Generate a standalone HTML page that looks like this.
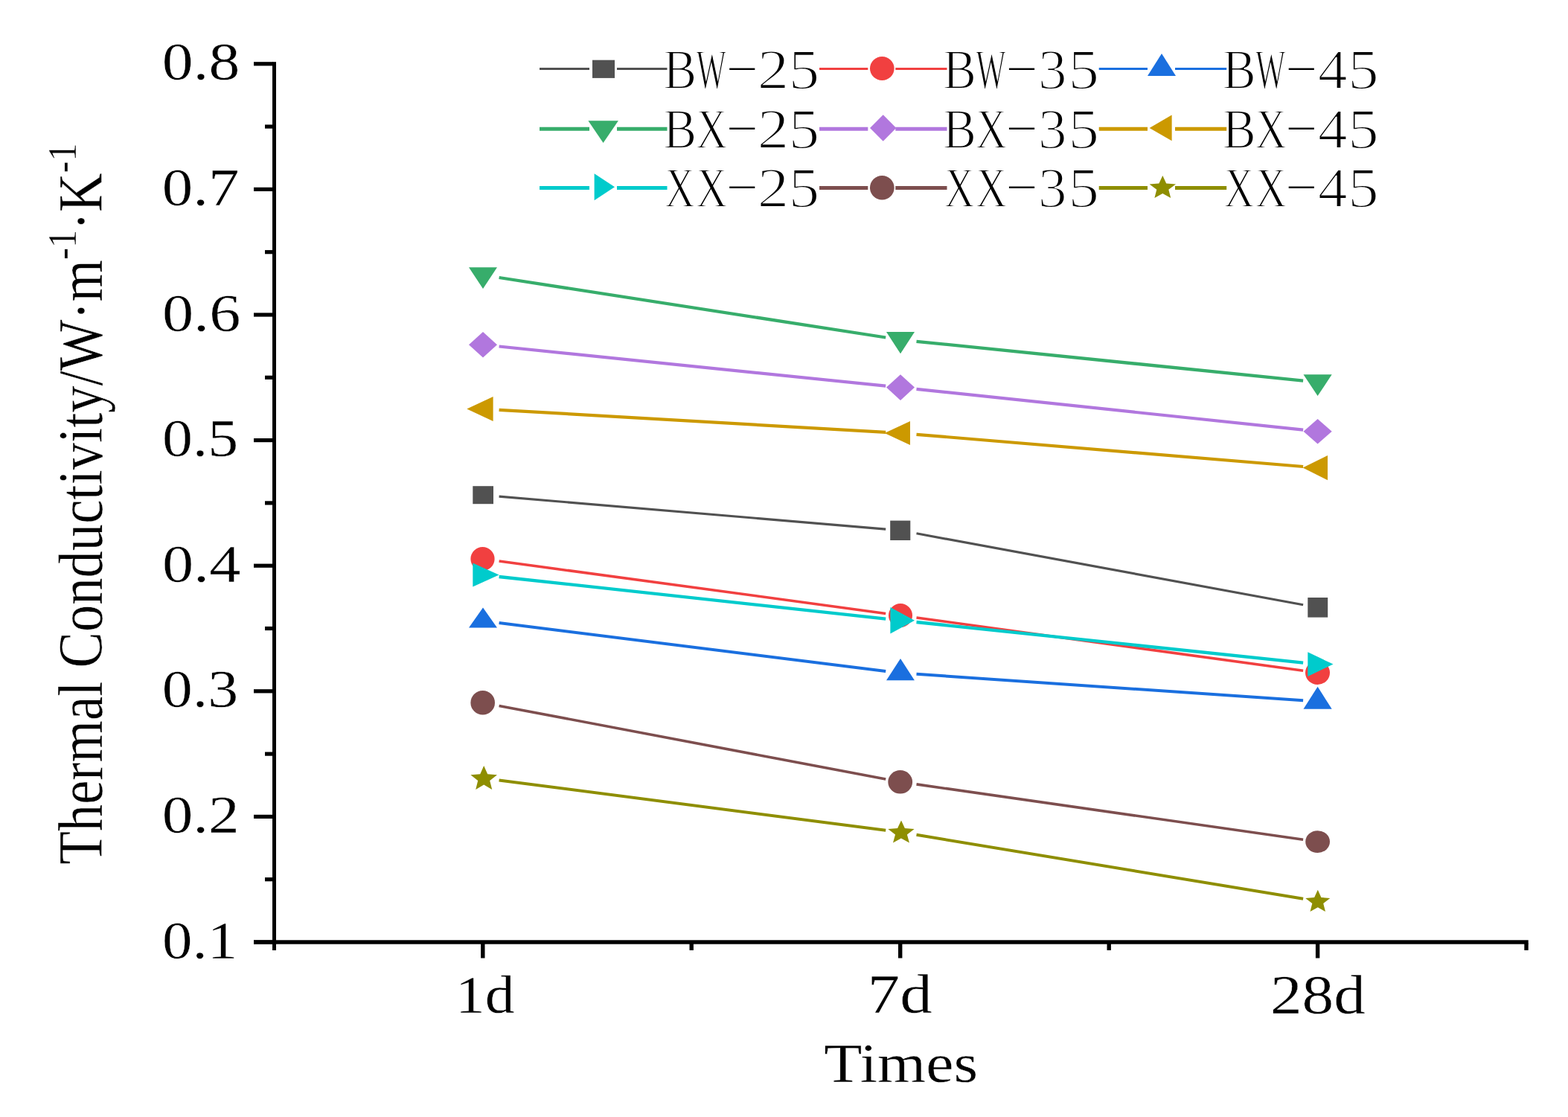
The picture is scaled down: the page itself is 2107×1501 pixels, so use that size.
<!DOCTYPE html>
<html><head><meta charset="utf-8"><title>Thermal Conductivity vs Times</title>
<style>html,body{margin:0;padding:0;background:#fff;width:2107px;height:1501px;overflow:hidden}</style></head>
<body>
<svg width="2107" height="1501" viewBox="0 0 2107 1501" style="display:block;font-family:'Liberation Serif', 'Times New Roman', serif">
<rect width="2107" height="1501" fill="#fff"/>
<g fill="#000">
<rect x="366.0" y="83.2" width="5.0" height="1193.8"/>
<rect x="341" y="1263.3" width="1712.7" height="5.4"/>
<rect x="341" y="1263.4" width="26.0" height="5.2"/>
<rect x="341" y="1094.8" width="26.0" height="5.2"/>
<rect x="341" y="926.2" width="26.0" height="5.2"/>
<rect x="341" y="757.6" width="26.0" height="5.2"/>
<rect x="341" y="589.0" width="26.0" height="5.2"/>
<rect x="341" y="420.4" width="26.0" height="5.2"/>
<rect x="341" y="251.8" width="26.0" height="5.2"/>
<rect x="341" y="83.2" width="26.0" height="5.2"/>
<rect x="356" y="1179.1" width="11.0" height="5.2"/>
<rect x="356" y="1010.5" width="11.0" height="5.2"/>
<rect x="356" y="841.9" width="11.0" height="5.2"/>
<rect x="356" y="673.3" width="11.0" height="5.2"/>
<rect x="356" y="504.7" width="11.0" height="5.2"/>
<rect x="356" y="336.1" width="11.0" height="5.2"/>
<rect x="356" y="167.5" width="11.0" height="5.2"/>
<rect x="646.1" y="1267.7" width="5.4" height="19.8"/>
<rect x="1207.0" y="1267.7" width="5.4" height="19.8"/>
<rect x="1767.9" y="1267.7" width="5.4" height="19.8"/>
<rect x="926.5" y="1267.7" width="5.4" height="9.2"/>
<rect x="1487.5" y="1267.7" width="5.4" height="9.2"/>
<rect x="2048.3" y="1267.7" width="5.4" height="9.2"/>
</g>
<g fill="#000">
<text font-size="200" stroke="#fff" stroke-width="1.0" transform="matrix(0.40430 0 0 0.36420 218.00 1287.52)">0.1</text>
<text font-size="200" stroke="#fff" stroke-width="1.0" transform="matrix(0.41602 0 0 0.36415 217.73 1119.22)">0.2</text>
<text font-size="200" stroke="#fff" stroke-width="1.0" transform="matrix(0.40932 0 0 0.36400 217.80 950.45)">0.3</text>
<text font-size="200" stroke="#fff" stroke-width="1.0" transform="matrix(0.42163 0 0 0.36432 217.93 781.64)">0.4</text>
<text font-size="200" stroke="#fff" stroke-width="1.0" transform="matrix(0.40947 0 0 0.36425 217.92 613.34)">0.5</text>
<text font-size="200" stroke="#fff" stroke-width="1.0" transform="matrix(0.42203 0 0 0.36421 217.92 444.54)">0.6</text>
<text font-size="200" stroke="#fff" stroke-width="1.0" transform="matrix(0.41494 0 0 0.36421 217.78 276.22)">0.7</text>
<text font-size="200" stroke="#fff" stroke-width="1.0" transform="matrix(0.41825 0 0 0.36373 217.80 107.39)">0.8</text>
<text font-size="200" stroke="#fff" stroke-width="1.0" transform="matrix(0.39756 0 0 0.36334 611.90 1361.16)">1d</text>
<text font-size="200" stroke="#fff" stroke-width="1.0" transform="matrix(0.43623 0 0 0.36716 1165.56 1361.15)">7d</text>
<text font-size="200" stroke="#fff" stroke-width="1.0" transform="matrix(0.42673 0 0 0.36864 1706.95 1361.62)">28d</text>
<text font-size="200" stroke="#fff" stroke-width="1.0" transform="matrix(0.41934 0 0 0.36803 1107.37 1453.78)">Times</text>
<text font-size="200" stroke="#fff" stroke-width="1.0" transform="matrix(0 -0.36300 0.41844 0 137.49 1161.48)">Thermal Conductivity/W·m<tspan font-size="132.0" dy="-84.0">-1</tspan><tspan dy="84.0">·K</tspan><tspan font-size="132.0" dy="-84.0">-1</tspan></text>
</g>
<path d="M670.6,667.1L1190.2,711.1M1231.5,716.8L1751.1,812.7" stroke="#515151" stroke-width="3.2" fill="none"/>
<rect x="635.3" y="653.2" width="27.7" height="24.0" fill="#515151"/>
<rect x="1196.2" y="699.6" width="27.1" height="26.4" fill="#515151"/>
<rect x="1757.3" y="803.0" width="26.9" height="26.6" fill="#515151"/>
<path d="M670.6,754.0L1190.2,824.4M1231.5,830.0L1751.1,901.3" stroke="#F14040" stroke-width="3.5" fill="none"/>
<ellipse cx="648.5" cy="751.0" rx="16.1" ry="16.0" fill="#F14040"/>
<ellipse cx="1210.0" cy="827.0" rx="16.0" ry="16.0" fill="#F14040"/>
<ellipse cx="1770.5" cy="904.0" rx="16.5" ry="16.0" fill="#F14040"/>
<path d="M670.6,837.1L1190.2,901.9M1231.5,905.8L1751.1,941.3" stroke="#1A6FDF" stroke-width="4.0" fill="none"/>
<polygon points="630.0,843.6 668.0,843.6 649.0,816.6" fill="#1A6FDF"/>
<polygon points="1191.0,914.3 1228.9,914.3 1210.0,885.0" fill="#1A6FDF"/>
<polygon points="1751.5,952.8 1789.7,952.8 1770.6,922.8" fill="#1A6FDF"/>
<path d="M670.6,373.0L1190.2,453.5M1231.5,458.8L1751.1,511.6" stroke="#37AD6B" stroke-width="4.3" fill="none"/>
<polygon points="630.0,359.3 668.0,359.3 649.0,388.0" fill="#37AD6B"/>
<polygon points="1191.0,446.0 1229.0,446.0 1210.0,475.3" fill="#37AD6B"/>
<polygon points="1751.5,503.3 1789.7,503.3 1770.6,532.0" fill="#37AD6B"/>
<path d="M670.6,465.5L1190.2,518.7M1231.5,522.9L1751.1,577.7" stroke="#B177DE" stroke-width="4.2" fill="none"/>
<polygon points="649.0,446.0 668.0,463.3 649.0,480.6 630.0,463.3" fill="#B177DE"/>
<polygon points="1210.0,503.3 1229.0,520.6 1210.0,538.0 1191.0,520.6" fill="#B177DE"/>
<polygon points="1770.6,563.0 1789.7,579.8 1770.6,596.6 1751.5,579.8" fill="#B177DE"/>
<path d="M670.6,550.8L1190.2,580.9M1231.5,583.8L1751.1,627.0" stroke="#CC9900" stroke-width="4.2" fill="none"/>
<polygon points="627.3,549.5 662.6,533.0 662.6,566.0" fill="#CC9900"/>
<polygon points="1188.6,582.0 1223.0,566.0 1223.0,598.0" fill="#CC9900"/>
<polygon points="1750.6,628.6 1784.0,612.0 1784.0,645.2" fill="#CC9900"/>
<path d="M670.6,775.0L1190.2,831.6M1231.5,836.0L1751.1,890.6" stroke="#00CBCC" stroke-width="4.3" fill="none"/>
<polygon points="670.6,772.6 635.3,756.6 635.3,788.6" fill="#00CBCC"/>
<polygon points="1229.0,833.7 1196.4,816.0 1196.4,851.4" fill="#00CBCC"/>
<polygon points="1791.5,892.6 1757.3,876.2 1757.3,909.0" fill="#00CBCC"/>
<path d="M670.6,948.4L1190.2,1047.1M1231.5,1053.9L1751.1,1128.3" stroke="#7D4E4E" stroke-width="3.6" fill="none"/>
<ellipse cx="648.7" cy="944.3" rx="16.3" ry="16.3" fill="#7D4E4E"/>
<ellipse cx="1209.7" cy="1050.8" rx="16.4" ry="15.8" fill="#7D4E4E"/>
<ellipse cx="1770.6" cy="1131.1" rx="16.4" ry="14.9" fill="#7D4E4E"/>
<path d="M670.6,1048.5L1190.2,1115.7M1231.5,1121.8L1751.1,1207.7" stroke="#8E8E00" stroke-width="4.0" fill="none"/>
<polygon points="650.2,1029.0 655.2,1040.2 668.0,1041.2 658.2,1049.1 661.2,1061.0 650.2,1054.6 639.2,1061.0 642.2,1049.1 632.4,1041.2 645.2,1040.2" fill="#8E8E00"/>
<polygon points="1211.0,1102.6 1215.9,1113.1 1228.6,1114.1 1218.9,1121.5 1221.9,1132.6 1210.9,1126.6 1200.0,1132.6 1203.0,1121.5 1193.3,1114.1 1206.0,1113.1" fill="#8E8E00"/>
<polygon points="1770.8,1195.7 1775.4,1206.0 1787.3,1206.9 1778.2,1214.1 1781.0,1225.0 1770.8,1219.2 1760.5,1225.0 1763.3,1214.1 1754.2,1206.9 1766.1,1206.0" fill="#8E8E00"/>
<path d="M725.0,92.5H792.0M829.0,92.5H896.5" stroke="#515151" stroke-width="3.0" fill="none"/>
<rect x="796.0" y="80.7" width="30.0" height="24.2" fill="#515151"/>
<text font-size="76.82" fill="#000" stroke="#fff" stroke-width="1.8"><tspan x="891.36" y="119.20" textLength="44.82" lengthAdjust="spacingAndGlyphs">B</tspan><tspan x="935.56" y="119.20" textLength="40.43" lengthAdjust="spacingAndGlyphs">W</tspan><tspan x="972.34" y="106.27" font-size="57.61" textLength="49.87" lengthAdjust="spacingAndGlyphs">-</tspan><tspan x="1017.87" y="119.20" textLength="42.41" lengthAdjust="spacingAndGlyphs">2</tspan><tspan x="1059.88" y="119.20" textLength="41.46" lengthAdjust="spacingAndGlyphs">5</tspan></text>
<path d="M1101.0,92.5H1166.3M1203.3,92.5H1272.5" stroke="#F14040" stroke-width="3.0" fill="none"/>
<ellipse cx="1185.3" cy="92.0" rx="16.3" ry="16.0" fill="#F14040"/>
<text font-size="76.82" fill="#000" stroke="#fff" stroke-width="1.8"><tspan x="1267.06" y="119.20" textLength="44.82" lengthAdjust="spacingAndGlyphs">B</tspan><tspan x="1311.26" y="119.20" textLength="40.43" lengthAdjust="spacingAndGlyphs">W</tspan><tspan x="1348.04" y="106.27" font-size="57.61" textLength="49.87" lengthAdjust="spacingAndGlyphs">-</tspan><tspan x="1394.92" y="119.20" textLength="38.49" lengthAdjust="spacingAndGlyphs">3</tspan><tspan x="1435.58" y="119.20" textLength="41.46" lengthAdjust="spacingAndGlyphs">5</tspan></text>
<path d="M1476.7,92.5H1542.0M1579.0,92.5H1648.2" stroke="#1A6FDF" stroke-width="3.0" fill="none"/>
<polygon points="1542.0,102.0 1580.0,102.0 1561.0,72.0" fill="#1A6FDF"/>
<text font-size="76.82" fill="#000" stroke="#fff" stroke-width="1.8"><tspan x="1642.76" y="119.20" textLength="44.82" lengthAdjust="spacingAndGlyphs">B</tspan><tspan x="1686.96" y="119.20" textLength="40.43" lengthAdjust="spacingAndGlyphs">W</tspan><tspan x="1723.74" y="106.27" font-size="57.61" textLength="49.87" lengthAdjust="spacingAndGlyphs">-</tspan><tspan x="1771.05" y="119.20" textLength="39.58" lengthAdjust="spacingAndGlyphs">4</tspan><tspan x="1811.28" y="119.20" textLength="41.46" lengthAdjust="spacingAndGlyphs">5</tspan></text>
<path d="M725.0,173.3H792.0M829.0,173.3H896.5" stroke="#37AD6B" stroke-width="5.0" fill="none"/>
<polygon points="790.4,162.2 830.9,162.2 810.6,191.9" fill="#37AD6B"/>
<text font-size="76.82" fill="#000" stroke="#fff" stroke-width="1.8"><tspan x="891.36" y="198.70" textLength="44.82" lengthAdjust="spacingAndGlyphs">B</tspan><tspan x="935.32" y="198.70" textLength="42.14" lengthAdjust="spacingAndGlyphs">X</tspan><tspan x="972.34" y="185.77" font-size="57.61" textLength="49.87" lengthAdjust="spacingAndGlyphs">-</tspan><tspan x="1017.87" y="198.70" textLength="42.41" lengthAdjust="spacingAndGlyphs">2</tspan><tspan x="1059.88" y="198.70" textLength="41.46" lengthAdjust="spacingAndGlyphs">5</tspan></text>
<path d="M1101.0,173.3H1166.3M1203.3,173.3H1272.5" stroke="#B177DE" stroke-width="5.0" fill="none"/>
<polygon points="1186.7,154.2 1204.3,171.9 1186.7,189.7 1169.0,171.9" fill="#B177DE"/>
<text font-size="76.82" fill="#000" stroke="#fff" stroke-width="1.8"><tspan x="1267.06" y="198.70" textLength="44.82" lengthAdjust="spacingAndGlyphs">B</tspan><tspan x="1311.02" y="198.70" textLength="42.14" lengthAdjust="spacingAndGlyphs">X</tspan><tspan x="1348.04" y="185.77" font-size="57.61" textLength="49.87" lengthAdjust="spacingAndGlyphs">-</tspan><tspan x="1394.92" y="198.70" textLength="38.49" lengthAdjust="spacingAndGlyphs">3</tspan><tspan x="1435.58" y="198.70" textLength="41.46" lengthAdjust="spacingAndGlyphs">5</tspan></text>
<path d="M1476.7,173.3H1542.0M1579.0,173.3H1648.2" stroke="#CC9900" stroke-width="5.0" fill="none"/>
<polygon points="1544.6,171.9 1574.6,154.6 1574.6,189.2" fill="#CC9900"/>
<text font-size="76.82" fill="#000" stroke="#fff" stroke-width="1.8"><tspan x="1642.76" y="198.70" textLength="44.82" lengthAdjust="spacingAndGlyphs">B</tspan><tspan x="1686.72" y="198.70" textLength="42.14" lengthAdjust="spacingAndGlyphs">X</tspan><tspan x="1723.74" y="185.77" font-size="57.61" textLength="49.87" lengthAdjust="spacingAndGlyphs">-</tspan><tspan x="1771.05" y="198.70" textLength="39.58" lengthAdjust="spacingAndGlyphs">4</tspan><tspan x="1811.28" y="198.70" textLength="41.46" lengthAdjust="spacingAndGlyphs">5</tspan></text>
<path d="M725.0,252.5H792.0M829.0,252.5H896.5" stroke="#00CBCC" stroke-width="5.0" fill="none"/>
<polygon points="826.0,251.2 798.6,233.2 798.6,269.2" fill="#00CBCC"/>
<text font-size="76.82" fill="#000" stroke="#fff" stroke-width="1.8"><tspan x="893.37" y="277.60" textLength="40.55" lengthAdjust="spacingAndGlyphs">X</tspan><tspan x="935.32" y="277.60" textLength="42.14" lengthAdjust="spacingAndGlyphs">X</tspan><tspan x="972.34" y="264.67" font-size="57.61" textLength="49.87" lengthAdjust="spacingAndGlyphs">-</tspan><tspan x="1017.87" y="277.60" textLength="42.41" lengthAdjust="spacingAndGlyphs">2</tspan><tspan x="1059.88" y="277.60" textLength="41.46" lengthAdjust="spacingAndGlyphs">5</tspan></text>
<path d="M1101.0,252.5H1166.3M1203.3,252.5H1272.5" stroke="#7D4E4E" stroke-width="5.0" fill="none"/>
<ellipse cx="1185.3" cy="252.2" rx="16.3" ry="16.3" fill="#7D4E4E"/>
<text font-size="76.82" fill="#000" stroke="#fff" stroke-width="1.8"><tspan x="1269.07" y="277.60" textLength="40.55" lengthAdjust="spacingAndGlyphs">X</tspan><tspan x="1311.02" y="277.60" textLength="42.14" lengthAdjust="spacingAndGlyphs">X</tspan><tspan x="1348.04" y="264.67" font-size="57.61" textLength="49.87" lengthAdjust="spacingAndGlyphs">-</tspan><tspan x="1394.92" y="277.60" textLength="38.49" lengthAdjust="spacingAndGlyphs">3</tspan><tspan x="1435.58" y="277.60" textLength="41.46" lengthAdjust="spacingAndGlyphs">5</tspan></text>
<path d="M1476.7,252.5H1542.0M1579.0,252.5H1648.2" stroke="#8E8E00" stroke-width="5.0" fill="none"/>
<polygon points="1562.3,235.9 1567.2,246.4 1580.0,247.4 1570.3,254.8 1573.2,265.9 1562.3,259.9 1551.4,265.9 1554.3,254.8 1544.6,247.4 1557.4,246.4" fill="#8E8E00"/>
<text font-size="76.82" fill="#000" stroke="#fff" stroke-width="1.8"><tspan x="1644.77" y="277.60" textLength="40.55" lengthAdjust="spacingAndGlyphs">X</tspan><tspan x="1686.72" y="277.60" textLength="42.14" lengthAdjust="spacingAndGlyphs">X</tspan><tspan x="1723.74" y="264.67" font-size="57.61" textLength="49.87" lengthAdjust="spacingAndGlyphs">-</tspan><tspan x="1771.05" y="277.60" textLength="39.58" lengthAdjust="spacingAndGlyphs">4</tspan><tspan x="1811.28" y="277.60" textLength="41.46" lengthAdjust="spacingAndGlyphs">5</tspan></text>
</svg>
</body></html>
